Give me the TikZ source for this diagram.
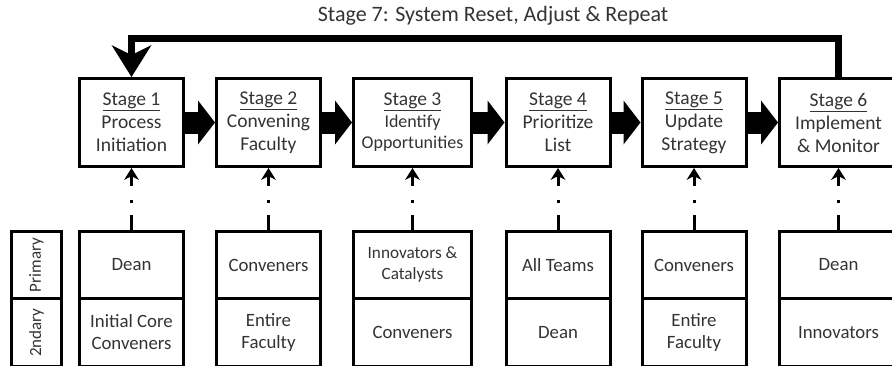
\documentclass[tikz,border=0pt]{standalone}
\usepackage{fontspec}
\setmainfont{Carlito}
\usepackage{tikz}
\usetikzlibrary{arrows.meta}
\tikzset{stagebox/.style={draw, line width=3pt, minimum width=104pt, minimum height=88pt, align=center, inner sep=2pt, text=black!80, font=\fontsize{19.5}{23}\selectfont}}
\tikzset{rolebox/.style={draw, line width=3pt, minimum width=104pt, minimum height=67pt, align=center, inner sep=2pt, text=black!80, font=\fontsize{18.8}{22}\selectfont}}
\tikzset{sidebox/.style={draw, line width=3pt, rotate=90, minimum width=67pt, minimum height=50pt, inner sep=2pt, text=black!80, font=\fontsize{17}{20}\selectfont}}
\tikzset{flow/.style={line width=22pt, -{Triangle[length=17pt, width=44pt, line width=0pt]}}}
\tikzset{feed/.style={line width=3pt, dash pattern=on 15pt off 12pt on 3pt off 14pt on 40pt, -{Stealth[length=12pt, width=15pt, line width=0pt]}}}
\tikzset{loop/.style={line width=7pt, -{Stealth[length=32pt, width=40pt, inset=10pt, line width=0pt]}}}

\begin{document}
\begin{tikzpicture}[x=1pt, y=-1pt]
    \useasboundingbox (0,0) rectangle (892,365);
    \clip (0,0) rectangle (892,365);
    \node [text=black!80, font=\fontsize{22}{24}\selectfont] (title) at (493,16) {Stage 7: System Reset, Adjust \& Repeat};
    % stages
    \node [stagebox] (s1) at (131.5,122.5) {\underline{Stage 1}\\Process\\Initiation};
    \node [stagebox] (s2) at (268.5,122.5) {\underline{Stage 2}\\Convening\\Faculty};
    \node [stagebox, minimum width=118pt, font=\fontsize{18}{21}\selectfont] (s3) at (412.5,122.5) {{\fontsize{19.5}{23}\selectfont\underline{Stage 3}}\\[1pt]Identify\\Opportunities};
    \node [stagebox] (s4) at (558,122.5) {\underline{Stage 4}\\Prioritize\\List};
    \node [stagebox] (s5) at (694,122.5) {\underline{Stage 5}\\Update\\Strategy};
    \node [stagebox, minimum width=118pt] (s6) at (838.5,122.5) {\underline{Stage 6}\\Implement\\\& Monitor};
    \draw [flow] (s1.east) -- (s2.west);
    \draw [flow] (s2.east) -- (s3.west);
    \draw [flow] (s3.east) -- (s4.west);
    \draw [flow] (s4.east) -- (s5.west);
    \draw [flow] (s5.east) -- (s6.west);
    % loop back
    \coordinate (loopR) at (838.5,38.5);
    \coordinate (loopL) at (131.5,38.5);
    \draw [loop] (s6.north) -- (loopR) -- (loopL) -- (s1.north);
    % roles
    \node [sidebox] (prim) at (36.5,265) {Primary};
    \node [sidebox, minimum width=68pt] (sec) at (36.5,332.5) {2ndary};
    \node [rolebox] (p1) at (131.5,265) {Dean};
    \node [rolebox, minimum height=68pt] (q1) at (131.5,332.5) {Initial Core\\Conveners};
    \node [rolebox] (p2) at (268.5,265) {Conveners};
    \node [rolebox, minimum height=68pt] (q2) at (268.5,332.5) {Entire\\Faculty};
    \node [rolebox, minimum width=118pt, font=\fontsize{17.2}{21}\selectfont] (p3) at (412.5,265) {Innovators \&\\Catalysts};
    \node [rolebox, minimum width=118pt, minimum height=68pt] (q3) at (412.5,332.5) {Conveners};
    \node [rolebox] (p4) at (558,265) {All Teams};
    \node [rolebox, minimum height=68pt] (q4) at (558,332.5) {Dean};
    \node [rolebox] (p5) at (694,265) {Conveners};
    \node [rolebox, minimum height=68pt] (q5) at (694,332.5) {Entire\\Faculty};
    \node [rolebox, minimum width=118pt] (p6) at (838.5,265) {Dean};
    \node [rolebox, minimum width=118pt, minimum height=68pt] (q6) at (838.5,332.5) {Innovators};
    \draw [feed] (p1.north) -- (s1.south);
    \draw [feed] (p2.north) -- (s2.south);
    \draw [feed] (p3.north) -- (s3.south);
    \draw [feed] (p4.north) -- (s4.south);
    \draw [feed] (p5.north) -- (s5.south);
    \draw [feed] (p6.north) -- (s6.south);
\end{tikzpicture}
\end{document}
